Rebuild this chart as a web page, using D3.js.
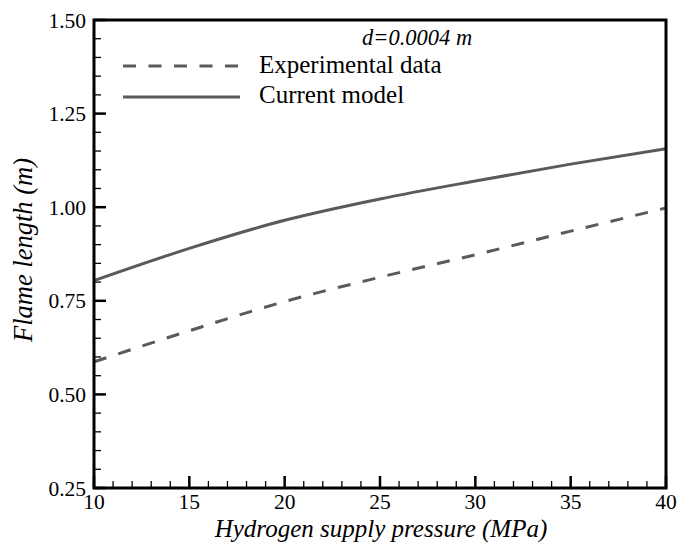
<!DOCTYPE html>
<html>
<head>
<meta charset="utf-8">
<script src="https://cdn.jsdelivr.net/npm/d3@7"></script>
<style>
  body { margin: 0; background: #fff; overflow: hidden; }
</style>
</head>
<body>
<div id="container"></div>
<script>
const pressure = [10, 15, 20, 25, 30, 35, 40];
const currentModel = [0.804, 0.89, 0.965, 1.022, 1.07, 1.115, 1.156];
const experimental = [0.587, 0.67, 0.748, 0.813, 0.873, 0.936, 0.998];
const xTicks = [10, 15, 20, 25, 30, 35, 40];
const yTicks = [0.25, 0.5, 0.75, 1.0, 1.25, 1.5];

const W = 680, H = 545;
const margin = {top: 20, right: 14, bottom: 57, left: 94};
const width = W - margin.left - margin.right;
const height = H - margin.top - margin.bottom;
const serif = "'Liberation Serif', 'Times New Roman', Times, serif";

const svg = d3.select("#container").append("svg")
  .attr("width", W)
  .attr("height", H)
  .attr("font-family", serif)
  .style("display", "block");

const g = svg.append("g")
  .attr("transform", `translate(${margin.left},${margin.top})`);

const x = d3.scaleLinear().domain([10, 40]).range([0, width]);
const y = d3.scaleLinear().domain([0.25, 1.5]).range([height, 0]);

const lineColor = "#5a5a5a";

// minor ticks
const xMinor = d3.range(10, 41, 1).filter(v => v % 5 !== 0);
const yMinor = d3.range(25, 151, 5).map(v => v / 100).filter(v => Math.round(v * 100) % 25 !== 0);

g.selectAll(".xminor").data(xMinor).join("line")
  .attr("x1", d => x(d)).attr("x2", d => x(d))
  .attr("y1", height).attr("y2", height - 7)
  .attr("stroke", "#000").attr("stroke-width", 1.3);

g.selectAll(".xmajor").data(xTicks).join("line")
  .attr("x1", d => x(d)).attr("x2", d => x(d))
  .attr("y1", height).attr("y2", height - 12)
  .attr("stroke", "#000").attr("stroke-width", 2.5);

g.selectAll(".yminor").data(yMinor).join("line")
  .attr("x1", 0).attr("x2", 7)
  .attr("y1", d => y(d)).attr("y2", d => y(d))
  .attr("stroke", "#000").attr("stroke-width", 1.3);

g.selectAll(".ymajor").data(yTicks).join("line")
  .attr("x1", 0).attr("x2", 12)
  .attr("y1", d => y(d)).attr("y2", d => y(d))
  .attr("stroke", "#000").attr("stroke-width", 2.5);

// tick labels
g.selectAll(".xlab").data(xTicks).join("text")
  .attr("x", d => x(d))
  .attr("y", height + 21)
  .attr("text-anchor", "middle")
  .style("font-size", "21.5px")
  .text(d => d);

g.selectAll(".ylab").data(yTicks).join("text")
  .attr("x", -8)
  .attr("y", d => y(d))
  .attr("dy", "0.35em")
  .attr("text-anchor", "end")
  .style("font-size", "21.5px")
  .text(d => d3.format(".2f")(d));

// curves
const line = d3.line()
  .x(d => x(d[0]))
  .y(d => y(d[1]))
  .curve(d3.curveMonotoneX);

g.append("path")
  .datum(pressure.map((p, i) => [p, currentModel[i]]))
  .attr("fill", "none")
  .attr("stroke", lineColor)
  .attr("stroke-width", 3)
  .attr("d", line);

g.append("path")
  .datum(pressure.map((p, i) => [p, experimental[i]]))
  .attr("fill", "none")
  .attr("stroke", lineColor)
  .attr("stroke-width", 3)
  .attr("stroke-dasharray", "13,12.5")
  .attr("d", line);

// frame
g.append("rect")
  .attr("width", width)
  .attr("height", height)
  .attr("fill", "none")
  .attr("stroke", "#000")
  .attr("stroke-width", 3);

// legend
svg.append("text")
  .attr("x", 362).attr("y", 45)
  .style("font-size", "22.5px")
  .style("font-style", "italic")
  .text("d=0.0004 m");

svg.append("line")
  .attr("x1", 123).attr("x2", 238)
  .attr("y1", 66).attr("y2", 66)
  .attr("stroke", lineColor).attr("stroke-width", 3.2)
  .attr("stroke-dasharray", "13,12.5");

svg.append("text")
  .attr("x", 259).attr("y", 73)
  .style("font-size", "25px")
  .text("Experimental data");

svg.append("line")
  .attr("x1", 123).attr("x2", 240)
  .attr("y1", 97).attr("y2", 97)
  .attr("stroke", lineColor).attr("stroke-width", 3.2);

svg.append("text")
  .attr("x", 259).attr("y", 103)
  .style("font-size", "25px")
  .text("Current model");

// axis titles
svg.append("text")
  .attr("x", 381)
  .attr("y", 537)
  .attr("text-anchor", "middle")
  .style("font-size", "25px")
  .style("font-style", "italic")
  .text("Hydrogen supply pressure (MPa)");

svg.append("text")
  .attr("transform", "translate(32,250) rotate(-90)")
  .attr("text-anchor", "middle")
  .style("font-size", "26.5px")
  .style("font-style", "italic")
  .text("Flame length (m)");
</script>
</body>
</html>
